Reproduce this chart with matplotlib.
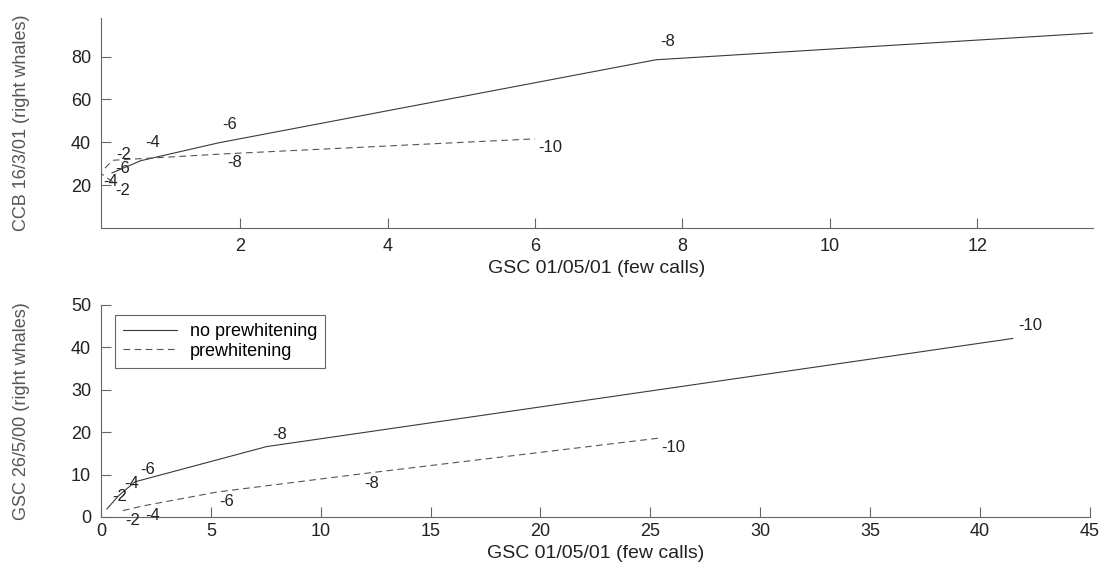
import matplotlib
matplotlib.use('Agg')
import matplotlib.pyplot as plt

plt.rcParams['font.family'] = ['Liberation Sans', 'DejaVu Sans']

# threshold labels at each point
thr_labels = ['-2', '-4', '-6', '-8', '-10']

# top panel: GSC 01/05/01 vs CCB 16/3/01
top_nopw_x = [0.26, 0.65, 1.70, 7.64, 13.57]
top_nopw_y = [25.7, 31.4, 39.7, 78.5, 91.0]
top_pw_x = [0.27, 0.10, 0.27, 1.79, 6.0]
top_pw_y = [21.5, 25.7, 31.6, 34.6, 41.6]

# bottom panel: GSC 01/05/01 vs GSC 26/5/00
bot_nopw_x = [0.27, 0.80, 1.55, 7.54, 41.5]
bot_nopw_y = [1.9, 5.0, 8.3, 16.6, 42.1]
bot_pw_x = [1.0, 1.9, 5.3, 11.9, 25.4]
bot_pw_y = [1.5, 2.6, 5.9, 10.2, 18.6]

xlabel = 'GSC 01/05/01 (few calls)'
top_ylabel = 'CCB 16/3/01 (right whales)'
bot_ylabel = 'GSC 26/5/00 (right whales)'
legend_labels = ['no prewhitening', 'prewhitening']

solid_col = '#3a3a3a'
dash_col = '#555555'
text_col = '#222222'

fig = plt.figure(figsize=(11.01, 5.66), dpi=100)
ax1 = fig.add_axes([0.0917, 0.5972, 0.901, 0.371])
ax2 = fig.add_axes([0.0917, 0.0866, 0.898, 0.3746])


def style(ax):
    for s in ['top', 'right']:
        ax.spines[s].set_visible(False)
    for s in ['left', 'bottom']:
        ax.spines[s].set_color('#666666')
        ax.spines[s].set_linewidth(0.8)
    ax.tick_params(direction='in', length=7, width=0.8, color='#666666',
                   labelsize=13, labelcolor=text_col, pad=7)


def label_points(ax, xs, ys, offset):
    for x, y, t in zip(xs, ys, thr_labels):
        ax.annotate(t, (x, y), xytext=offset, textcoords='offset points',
                    ha='left', va='center', fontsize=12, color=text_col,
                    annotation_clip=False)


# top panel
ax1.plot(top_nopw_x, top_nopw_y, '-', color=solid_col, lw=0.8)
ax1.plot(top_pw_x, top_pw_y, '--', color=dash_col, lw=0.8, dashes=(6, 4))
label_points(ax1, top_nopw_x[:4], top_nopw_y[:4], (3, 13))
label_points(ax1, top_pw_x, top_pw_y, (2, -6))
ax1.set_xlim(0.11, 13.57)
ax1.set_ylim(0, 98)
ax1.set_xticks([2, 4, 6, 8, 10, 12])
ax1.set_yticks([20, 40, 60, 80])
style(ax1)
ax1.set_xlabel(xlabel, fontsize=14, color=text_col, labelpad=4)
ax1.set_ylabel(top_ylabel, fontsize=13, color='#555555')
ax1.yaxis.set_label_coords(-0.072, 0.5)

# bottom panel
l1, = ax2.plot(bot_nopw_x, bot_nopw_y, '-', color=solid_col, lw=0.8)
l2, = ax2.plot(bot_pw_x, bot_pw_y, '--', color=dash_col, lw=0.8, dashes=(6, 4))
label_points(ax2, bot_nopw_x, bot_nopw_y, (4, 9))
label_points(ax2, bot_pw_x, bot_pw_y, (1.5, -7))
ax2.set_xlim(0, 45)
ax2.set_ylim(0, 50)
ax2.set_xticks(range(0, 46, 5))
ax2.set_yticks(range(0, 51, 10))
style(ax2)
ax2.tick_params(axis='x', pad=4)
ax2.set_xlabel(xlabel, fontsize=14, color=text_col, labelpad=4)
ax2.set_ylabel(bot_ylabel, fontsize=13, color='#555555')
ax2.yaxis.set_label_coords(-0.072, 0.5)

leg = ax2.legend([l1, l2], legend_labels, loc='upper left',
                 bbox_to_anchor=(0.014, 0.953), borderaxespad=0,
                 fontsize=13, fancybox=False, framealpha=1,
                 handlelength=3.0, handletextpad=0.7, borderpad=0.45,
                 labelspacing=0.15)
leg.get_frame().set_edgecolor('#666666')
leg.get_frame().set_linewidth(0.8)

fig.savefig('out.png', dpi=100)
